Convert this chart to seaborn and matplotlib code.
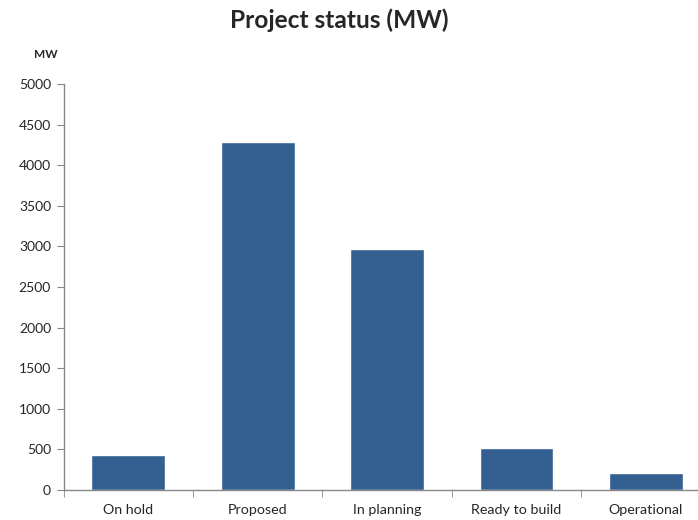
import numpy as np
import pandas as pd
import matplotlib
matplotlib.use("Agg")
import matplotlib.pyplot as plt
import seaborn as sns

# chart data
statuses = ["On hold", "Proposed", "In planning", "Ready to build", "Operational"]
capacity_mw = [430, 4285, 2965, 515, 205]

df = pd.DataFrame({"Status": statuses, "MW": capacity_mw})

sns.set_style("white")
plt.rcParams["font.family"] = ["Lato", "DejaVu Sans"]

fig = plt.figure(figsize=(6.98, 5.2), dpi=100)
ax = fig.add_axes([0.091, 0.0577, 0.927, 0.7808])

sns.barplot(data=df, x="Status", y="MW", color="#335f91", saturation=1,
            width=0.57, ax=ax)

ax.set_ylim(0, 5000)
ax.set_xlim(-0.5, len(statuses) - 0.5)
ax.set_yticks(np.arange(0, 5001, 500))
ax.set_xlabel("")
ax.set_ylabel("")

# tick marks sit between categories, like the spreadsheet chart
ax.set_xticks(np.arange(-0.5, len(statuses), 1), minor=True)
ax.tick_params(axis="x", which="major", length=0, pad=10, labelsize=10.3)
ax.tick_params(axis="x", which="minor", length=5, color="#888888", direction="out", bottom=True)
ax.tick_params(axis="y", length=5, color="#888888", direction="out", left=True, labelsize=10, pad=4)

for s in ["top", "right"]:
    ax.spines[s].set_visible(False)
for s in ["left", "bottom"]:
    ax.spines[s].set_color("#888888")
    ax.spines[s].set_linewidth(1)

fig.text(0.486, 0.962, "Project status (MW)", ha="center", va="center",
         fontsize=17.6, fontweight="bold")
fig.text(0.065, 0.895, "MW", ha="center", va="center", fontsize=8.5, fontweight="bold")

fig.savefig("out.png", dpi=100)
